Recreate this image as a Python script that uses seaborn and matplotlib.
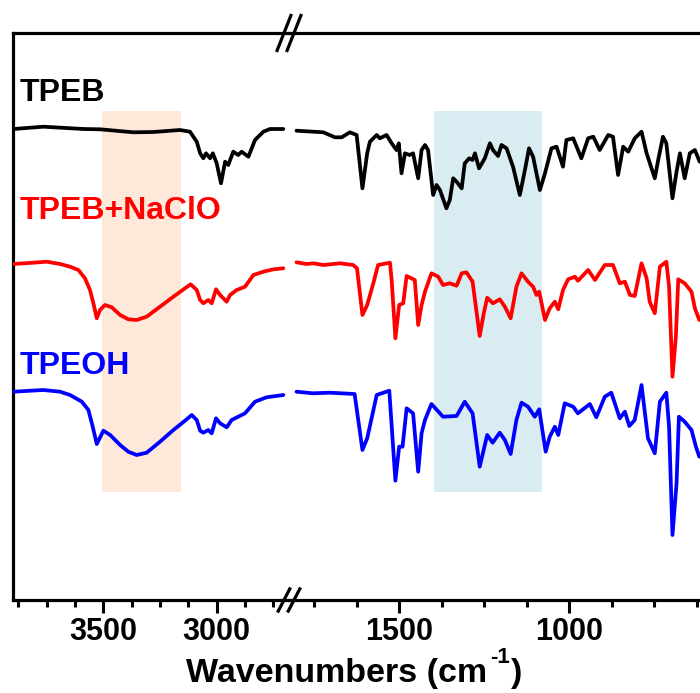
import numpy as np
import pandas as pd
import matplotlib
matplotlib.use("Agg")
import matplotlib.pyplot as plt
from matplotlib.ticker import MultipleLocator
from matplotlib.lines import Line2D
import seaborn as sns

# ---------------- data (offset transmittance, arbitrary units) ----------------
# High-wavenumber window (left panel)
tpeb_hi_wn = [3897, 3765, 3588, 3515, 3368, 3279, 3162, 3118, 3088, 3073, 3059, 3047, 3029, 3017,
              3000, 2981, 2963, 2949, 2927, 2905, 2890, 2860, 2831, 2794, 2765, 2706]
tpeb_hi_v = [471, 473.3, 471, 470.7, 467.7, 468, 470, 468.3, 458.3, 446.7, 441.7, 446.7, 441.7, 446.7,
             436.7, 416.7, 438.3, 435, 448.3, 445, 448.3, 443.3, 460, 468.3, 471, 471]

naclo_hi_wn = [3897, 3809, 3750, 3691, 3647, 3610, 3581, 3559, 3544, 3529, 3515, 3493, 3463, 3426,
               3390, 3353, 3309, 3250, 3191, 3140, 3115, 3088, 3073, 3059, 3037, 3022, 3003, 2985,
               2956, 2941, 2912, 2875, 2838, 2794, 2750, 2706]
naclo_hi_v = [336, 337.3, 338.3, 336, 333.3, 330, 321.7, 310, 296.7, 281.7, 290, 295, 292.7, 285,
              280.7, 280, 283.3, 293.3, 303.3, 311.7, 315.7, 310, 300, 296.7, 300, 296.7, 310.7, 305,
              298.3, 305, 310, 313.3, 325, 328.3, 330.7, 331.7]

tpeoh_hi_wn = [3897, 3765, 3691, 3647, 3595, 3566, 3547, 3529, 3500, 3470, 3426, 3390, 3353, 3309,
               3250, 3191, 3140, 3110, 3088, 3073, 3059, 3037, 3022, 3003, 2985, 2956, 2934, 2905,
               2875, 2831, 2780, 2706]
tpeoh_hi_v = [208.3, 210, 208.3, 205, 198.3, 190, 173.3, 156, 169.3, 165, 155, 148.3, 145, 147.3,
              158.3, 170, 179.3, 185, 180, 169.3, 167.3, 170, 166.7, 181.7, 176.7, 172.7, 180, 183.3,
              186.7, 198.3, 202.7, 205]

# Fingerprint window (right panel)
tpeb_lo_wn = [1802, 1753, 1723, 1689, 1669, 1645, 1625, 1608, 1594, 1586, 1566, 1557, 1537, 1522,
              1508, 1501, 1493, 1483, 1469, 1459, 1444, 1434, 1424, 1415, 1400, 1390, 1380, 1361,
              1351, 1341, 1331, 1316, 1307, 1294, 1284, 1277, 1265, 1248, 1233, 1224, 1209, 1199,
              1184, 1165, 1145, 1130, 1118, 1106, 1086, 1071, 1052, 1037, 1018, 1008, 988, 964,
              944, 929, 910, 885, 871, 856, 841, 826, 807, 787, 772, 748, 738, 724, 714, 696,
              684, 674, 660, 645, 630, 616]
tpeb_lo_v = [469.3, 468.3, 467.7, 462.7, 462.7, 467.7, 465, 411.7, 446.7, 458.3, 465, 461.7, 465, 456.7,
             450, 456.7, 426.7, 446.7, 445, 446.7, 421.7, 450, 455, 450, 405, 415, 410, 391.7,
             400, 421.7, 418.3, 411.7, 436.7, 441.7, 440, 446.7, 431.7, 441.7, 456.7, 450, 444, 455,
             451.7, 433.3, 405, 430, 451.7, 443.3, 410, 426.7, 451.7, 453.3, 433.3, 460, 461.7, 441.7,
             461.7, 463.3, 450, 465, 463.3, 425, 453.3, 448.3, 461.7, 468.3, 446.7, 421.7, 440, 463.3,
             456.7, 401.7, 428.3, 446.7, 421.7, 446.7, 450, 438.3]

naclo_lo_wn = [1802, 1772, 1753, 1723, 1674, 1635, 1624, 1608, 1594, 1576, 1562, 1527, 1522, 1511,
               1500, 1488, 1478, 1464, 1454, 1444, 1434, 1424, 1405, 1385, 1371, 1351, 1331, 1316,
               1302, 1284, 1263, 1251, 1241, 1224, 1204, 1189, 1172, 1155, 1140, 1121, 1106, 1096,
               1088, 1071, 1057, 1042, 1032, 1018, 1003, 983, 974, 944, 924, 895, 871, 851, 836,
               821, 807, 787, 772, 763, 748, 733, 714, 706, 696, 686, 679, 660, 640, 630, 617]
naclo_lo_v = [337.7, 336, 336.7, 335, 336.7, 335, 331.7, 285, 295, 316.7, 335, 337.3, 320, 261.7,
              295, 296.7, 324, 321.7, 320, 275, 295, 308.3, 326.7, 323.3, 315, 316.7, 314.3, 326.7,
              327.7, 318.3, 264, 286.7, 302.3, 296.7, 300.7, 293.3, 281.7, 313.3, 326.7, 318.3, 313.3, 305,
              308.3, 280, 291.7, 298.3, 290.7, 310, 320.7, 323.3, 319.3, 330, 320, 335, 335, 316.7, 318.3,
              305, 304, 336.7, 321.7, 298.3, 286.7, 333.3, 338.3, 313.3, 223.3, 263.3, 320.7, 316.7, 308.3,
              291.7, 280]

tpeoh_lo_wn = [1802, 1753, 1704, 1631, 1608, 1594, 1566, 1529, 1511, 1500, 1490, 1478, 1459, 1444,
               1434, 1424, 1405, 1371, 1331, 1307, 1284, 1263, 1241, 1225, 1204, 1189, 1172, 1155,
               1140, 1121, 1101, 1088, 1069, 1057, 1042, 1032, 1013, 988, 974, 939, 920, 895, 876,
               851, 836, 823, 807, 787, 768, 748, 733, 714, 706, 696, 684, 677, 660, 640, 627, 617]
tpeoh_lo_v = [208.3, 206.7, 207.3, 206, 150, 161.7, 205, 209.3, 119.3, 153.3, 153.3, 191.7, 186.7, 128.3,
              166.7, 180, 196, 183.3, 184, 198.3, 186.7, 133.3, 165, 157.3, 167.3, 160, 146, 180,
              197.3, 193.3, 183.3, 190.7, 148.3, 163.3, 173.3, 165, 196.7, 193.3, 186.7, 196, 182.7, 203.3, 207.3,
              181.7, 188.3, 174, 180, 215, 161.7, 146.7, 198.3, 207.3, 173.3, 65, 116.7, 183.3, 178.3, 170,
              153.3, 143.3]

sample_names = ["TPEB", "TPEB+NaClO", "TPEOH"]
sample_colors = ["#000000", "#ff0000", "#0000ff"]
hi_band = (3506, 3157)      # shaded O-H region
lo_band = (1397, 1081)      # shaded fingerprint region
major_ticks_hi = [3500, 3000]
major_ticks_lo = [1500, 1000]

# ---------------- style ----------------
sns.set_style("white")
plt.rcParams["font.family"] = ["Liberation Sans", "DejaVu Sans"]
plt.rcParams["font.weight"] = "bold"
plt.rcParams["text.color"] = "black"
plt.rcParams["xtick.color"] = "black"
plt.rcParams["axes.labelcolor"] = "black"

W, H = 700, 693
fig = plt.figure(figsize=(W / 100, H / 100), dpi=100)

ax_l, ax_top_px, ax_bot_px, brk = 12.7, 33, 600, 289
bottom = (H - ax_bot_px) / H
height = (ax_bot_px - ax_top_px) / H
ax1 = fig.add_axes([ax_l / W, bottom, (brk - ax_l) / W, height])
ax2 = fig.add_axes([brk / W, bottom, (W - brk) / W, height])

hi_frames = [(tpeb_hi_wn, tpeb_hi_v), (naclo_hi_wn, naclo_hi_v), (tpeoh_hi_wn, tpeoh_hi_v)]
lo_frames = [(tpeb_lo_wn, tpeb_lo_v), (naclo_lo_wn, naclo_lo_v), (tpeoh_lo_wn, tpeoh_lo_v)]

band_ymin = (ax_bot_px - 491.7) / (ax_bot_px - ax_top_px)
band_ymax = (ax_bot_px - 111) / (ax_bot_px - ax_top_px)
ax1.axvspan(*hi_band, ymin=band_ymin, ymax=band_ymax, color="#fde8da", lw=0, zorder=0)
ax2.axvspan(*lo_band, ymin=band_ymin, ymax=band_ymax, color="#d8ecf2", lw=0, zorder=0)

for ax, frames in ((ax1, hi_frames), (ax2, lo_frames)):
    for (wn, v), name, col in zip(frames, sample_names, sample_colors):
        df = pd.DataFrame({"wn": wn, "v": v})
        sns.lineplot(data=df, x="wn", y="v", ax=ax, color=col, lw=2.7,
                     sort=False, estimator=None, zorder=3)

ax1.set_xlim(3900, 2681)
ax2.set_xlim(1824, 615)
for ax in (ax1, ax2):
    ax.set_ylim(0, 567)
    ax.set_yticks([])
    ax.set_xlabel("")
    ax.set_ylabel("")
    ax.xaxis.set_minor_locator(MultipleLocator(125))
    ax.tick_params(axis="x", which="major", direction="out", length=9.5, width=2.2,
                   labelsize=22, pad=3, bottom=True, colors="black")
    ax.tick_params(axis="x", which="minor", direction="out", length=5, width=2.2,
                   bottom=True, colors="black")
    ax.patch.set_alpha(0)
    for s in ax.spines.values():
        s.set_linewidth(2.3)
        s.set_color("black")
ax1.set_xticks(major_ticks_hi)
ax2.set_xticks(major_ticks_lo)
ax1.set_xticklabels([str(t) for t in major_ticks_hi], fontweight="bold", color="black")
ax2.set_xticklabels([str(t) for t in major_ticks_lo], fontweight="bold", color="black")
ax1.spines["right"].set_visible(False)
ax2.spines["left"].set_visible(False)
ax2.spines["right"].set_visible(False)

# axis break marks
def slash(cx, cy, dx, dy):
    for off in (-5, 5):
        fig.add_artist(Line2D([(cx + off - dx) / W, (cx + off + dx) / W],
                              [(H - (cy + dy)) / H, (H - (cy - dy)) / H],
                              color="black", lw=2.3, solid_capstyle="butt", zorder=10))
slash(brk, ax_top_px, 7.5, 19)
slash(brk, ax_bot_px, 6.5, 12.5)

# sample labels
label_baselines = [100.7, 219, 374.3]
for name, col, yb in zip(sample_names, sample_colors, label_baselines):
    fig.text(20 / W, (H - yb) / H, name, color=col, fontsize=23, fontweight="bold",
             ha="left", va="baseline")

# x-axis title: "Wavenumbers (cm" + superscript "-1" + ")"
renderer = fig.canvas.get_renderer()
t1 = fig.text(186 / W, (H - 682) / H, "Wavenumbers (cm", fontsize=24.5,
              fontweight="bold", ha="left", va="baseline", color="black")
x_end = t1.get_window_extent(renderer).x1
t2 = fig.text((x_end + 3) / W, (H - 663) / H, "-1", fontsize=16,
              fontweight="bold", ha="left", va="baseline", color="black")
x_end2 = t2.get_window_extent(renderer).x1
fig.text((x_end2 + 1) / W, (H - 682) / H, ")", fontsize=24.5,
         fontweight="bold", ha="left", va="baseline", color="black")

fig.savefig("out.png", dpi=100)
